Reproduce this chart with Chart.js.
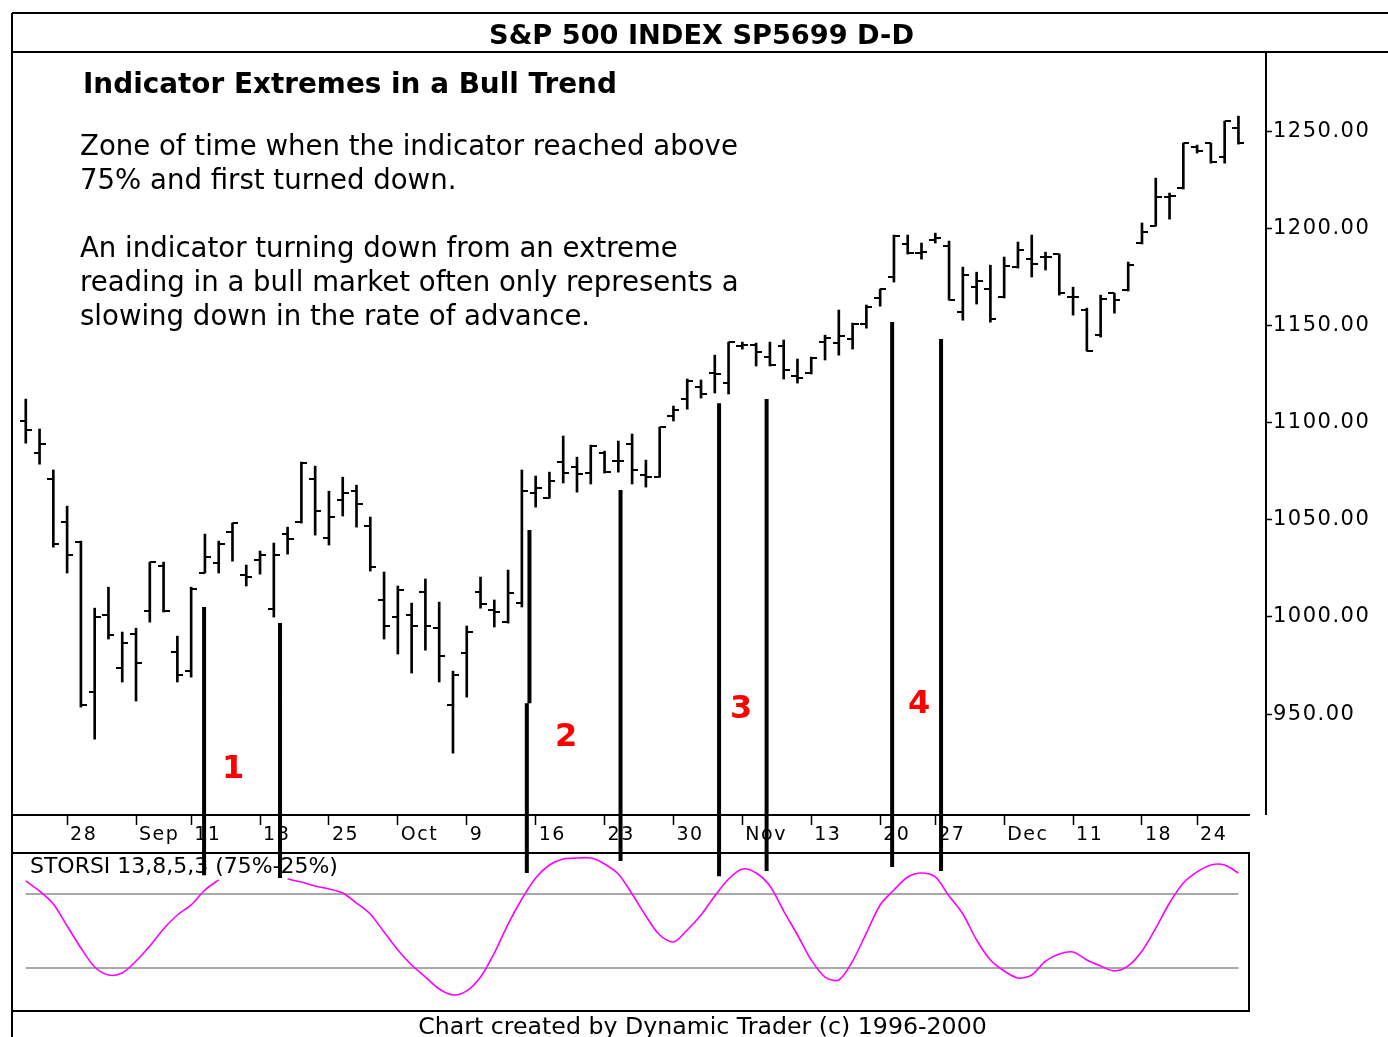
<!DOCTYPE html>
<html>
<head>
<meta charset="utf-8">
<script src="https://cdn.jsdelivr.net/npm/chart.js@4.4.1/dist/chart.umd.min.js"></script>
<style>
  html, body { margin: 0; padding: 0; background: #fff; }
  canvas { display: block; }
</style>
</head>
<body>
<canvas id="chart" width="1388" height="1037"></canvas>
<script>
// trading days on the chart (1998)
const dates = [
  'Aug 25', 'Aug 26', 'Aug 27', 'Aug 28', 'Aug 31',
  'Sep 1', 'Sep 2', 'Sep 3', 'Sep 4', 'Sep 8', 'Sep 9', 'Sep 10', 'Sep 11',
  'Sep 14', 'Sep 15', 'Sep 16', 'Sep 17', 'Sep 18',
  'Sep 21', 'Sep 22', 'Sep 23', 'Sep 24', 'Sep 25',
  'Sep 28', 'Sep 29', 'Sep 30',
  'Oct 1', 'Oct 2', 'Oct 5', 'Oct 6', 'Oct 7', 'Oct 8', 'Oct 9',
  'Oct 12', 'Oct 13', 'Oct 14', 'Oct 15', 'Oct 16',
  'Oct 19', 'Oct 20', 'Oct 21', 'Oct 22', 'Oct 23',
  'Oct 26', 'Oct 27', 'Oct 28', 'Oct 29', 'Oct 30',
  'Nov 2', 'Nov 3', 'Nov 4', 'Nov 5', 'Nov 6',
  'Nov 9', 'Nov 10', 'Nov 11', 'Nov 12', 'Nov 13',
  'Nov 16', 'Nov 17', 'Nov 18', 'Nov 19', 'Nov 20',
  'Nov 23', 'Nov 24', 'Nov 25', 'Nov 27', 'Nov 30',
  'Dec 1', 'Dec 2', 'Dec 3', 'Dec 4',
  'Dec 7', 'Dec 8', 'Dec 9', 'Dec 10', 'Dec 11',
  'Dec 14', 'Dec 15', 'Dec 16', 'Dec 17', 'Dec 18',
  'Dec 21', 'Dec 22', 'Dec 23', 'Dec 24',
  'Dec 28', 'Dec 29', 'Dec 30'
];

const high = [
  1112.1, 1096.7, 1075.6, 1057.0, 1039.0, 1004.5, 1015.3, 992.2, 994.2, 1028.2,
  1028.2, 990.1, 1015.3, 1042.6, 1039.0, 1048.3, 1026.7, 1033.9, 1038.0, 1046.2,
  1079.7, 1077.6, 1064.7, 1071.9, 1067.8, 1051.4, 1023.1, 1015.9, 1007.1, 1019.5,
  1007.6, 972.1, 995.3, 1020.5, 1008.7, 1024.1, 1075.6, 1072.5, 1074.5, 1093.1,
  1082.2, 1088.4, 1085.3, 1090.5, 1094.1, 1080.7, 1097.7, 1108.5, 1122.4, 1121.9,
  1134.7, 1141.4, 1141.4, 1140.9, 1141.4, 1142.5, 1132.7, 1133.7, 1145.0, 1157.9,
  1151.2, 1160.5, 1168.7, 1196.5, 1196.5, 1192.4, 1197.5, 1193.4, 1180.0, 1177.4,
  1181.0, 1185.2, 1192.9, 1196.5, 1187.7, 1186.7, 1169.7, 1158.9, 1165.6, 1166.6,
  1182.6, 1202.7, 1225.8, 1218.1, 1243.8, 1242.8, 1243.8, 1255.1, 1257.7
];
const low = [
  1089.4, 1078.6, 1035.9, 1022.6, 953.6, 937.1, 988.6, 966.5, 956.7, 997.3,
  1002.5, 966.5, 969.0, 1022.6, 1022.6, 1028.7, 1015.9, 1022.0, 999.9, 1032.3,
  1048.3, 1042.1, 1037.0, 1051.9, 1046.2, 1023.6, 988.6, 980.9, 971.1, 982.9,
  966.5, 929.9, 958.7, 1004.5, 994.8, 996.8, 1005.1, 1056.5, 1061.1, 1068.9,
  1064.2, 1068.4, 1074.0, 1074.5, 1068.4, 1066.8, 1071.9, 1100.8, 1106.9, 1112.6,
  1115.2, 1114.7, 1137.8, 1129.1, 1129.1, 1122.4, 1120.3, 1125.0, 1132.2, 1134.7,
  1137.8, 1148.6, 1159.9, 1172.3, 1186.7, 1184.1, 1192.4, 1163.0, 1152.7, 1161.0,
  1151.7, 1164.1, 1179.5, 1174.9, 1178.5, 1165.6, 1155.3, 1136.8, 1144.0, 1156.3,
  1167.7, 1191.9, 1201.1, 1204.7, 1220.2, 1238.7, 1233.5, 1233.5, 1243.3
];
const open = [
  1100.8, 1084.3, 1070.9, 1048.8, 1038.5, 961.3, 1000.9, 973.7, 991.2, 1003.0,
  1026.2, 981.9, 972.1, 1022.6, 1027.7, 1043.6, 1021.5, 1029.2, 1004.0, 1042.6,
  1048.8, 1070.9, 1040.6, 1060.1, 1064.7, 1046.7, 1008.7, 999.9, 1000.9, 1012.8,
  994.2, 954.6, 981.4, 1012.8, 1003.5, 997.3, 1007.1, 1063.7, 1061.1, 1079.7,
  1077.1, 1074.0, 1084.3, 1080.2, 1088.9, 1073.0, 1071.9, 1103.3, 1112.1, 1118.3,
  1125.5, 1120.3, 1139.4, 1139.9, 1133.7, 1139.4, 1123.9, 1125.5, 1141.4, 1140.9,
  1143.0, 1150.7, 1164.1, 1174.9, 1191.9, 1187.2, 1193.9, 1190.8, 1156.9, 1169.7,
  1168.7, 1164.6, 1180.0, 1184.1, 1185.2, 1186.7, 1164.6, 1157.9, 1145.0, 1166.6,
  1168.2, 1192.4, 1201.1, 1216.0, 1220.7, 1241.8, 1243.8, 1236.6, 1251.5
];
const close = [
  1096.1, 1088.9, 1037.5, 1031.8, 954.6, 999.9, 990.6, 986.5, 976.2, 1028.2,
  1003.0, 970.1, 1014.3, 1030.8, 1037.5, 1048.3, 1020.5, 1031.8, 1031.8, 1040.0,
  1079.2, 1054.5, 1051.4, 1063.7, 1058.1, 1025.6, 995.3, 1013.8, 995.3, 995.3,
  979.8, 970.1, 992.2, 1006.6, 1002.5, 1012.3, 1064.7, 1066.3, 1069.9, 1074.0,
  1073.5, 1087.9, 1074.5, 1080.2, 1075.6, 1071.9, 1097.7, 1106.4, 1121.4, 1114.7,
  1125.0, 1141.4, 1139.9, 1136.3, 1129.6, 1127.0, 1122.9, 1133.2, 1143.5, 1144.5,
  1150.7, 1159.4, 1168.7, 1196.0, 1187.2, 1187.7, 1194.9, 1163.0, 1175.9, 1172.8,
  1153.3, 1180.5, 1188.8, 1181.6, 1185.2, 1166.6, 1164.6, 1136.8, 1163.5, 1163.0,
  1181.0, 1198.0, 1216.0, 1216.6, 1243.8, 1239.7, 1234.0, 1255.1, 1243.8
];

// STORSI 13,8,5,3 values; the nulls sit under the indicator caption
const storsi = [
  83.8, 77.0, 68.2, 53.4, 38.5, 25.7, 20.3, 21.6, 29.7, 39.9,
  51.4, 60.8, 67.6, 77.7, 84.5, null, null, null, null, 85.1,
  83.1, 80.4, 78.4, 75.7, 68.9, 61.5, 49.3, 37.2, 27.0, 18.9,
  10.8, 6.8, 9.5, 18.9, 35.1, 54.7, 71.6, 85.8, 94.6, 98.6,
  99.3, 99.3, 95.3, 88.5, 75.0, 60.1, 47.3, 42.6, 50.7, 60.8,
  73.6, 85.1, 91.9, 89.2, 80.4, 63.5, 47.3, 30.4, 18.9, 16.9,
  29.7, 48.6, 67.6, 77.7, 86.5, 89.2, 86.5, 73.6, 61.5, 43.9,
  30.4, 23.0, 18.2, 20.3, 29.7, 34.5, 35.8, 30.4, 26.4, 23.0,
  26.4, 36.5, 52.0, 68.9, 82.4, 89.9, 94.6, 94.6, 89.2
];
const storsiLevels = [75, 25];

const tickDays = ['Aug 28', 'Sep 4', 'Sep 11', 'Sep 18', 'Sep 25', 'Oct 2', 'Oct 9', 'Oct 16', 'Oct 23',
  'Oct 30', 'Nov 6', 'Nov 13', 'Nov 20', 'Nov 27', 'Dec 4', 'Dec 11', 'Dec 18', 'Dec 24'];
const tickLabels = ['28', 'Sep', '11', '18', '25', 'Oct', '9', '16', '23',
  '30', 'Nov', '13', '20', '27', 'Dec', '11', '18', '24'];
const priceTicks = [950, 1000, 1050, 1100, 1150, 1200, 1250];

// hand drawn zone markers: bar position, top of the line and its end (price units)
const markerX = [12.94, 18.45, 36.55, 36.36, 43.16, 50.31, 53.76, 62.87, 66.42];
const markerTop = [1005.1, 996.8, 1044.7, 955.6, 1065.3, 1110.0, 1112.1, 1151.7, 1143.0];
const markerEnd = [867.1, 865.6, 955.6, 868.2, 874.4, 866.6, 869.2, 871.3, 869.2];
const zoneNames = ['1', '2', '3', '4'];

const FONT = '"DejaVu Sans", sans-serif';
Chart.defaults.font.family = FONT;

const dateAxisLevel = 898.0;   // price level where the date strip sits
const PANEL_TOP = 853, PANEL_RIGHT = 1249;

const tickIndex = tickDays.map(d => dates.indexOf(d));

function tickMark(side) {
  const c = document.createElement('canvas');
  c.width = 12; c.height = 2;
  const g = c.getContext('2d');
  g.fillStyle = '#000';
  g.fillRect(side < 0 ? 0 : 6, 0, 6, 2);
  return c;
}

const markerData = [];
markerX.forEach((x, k) => {
  markerData.push({ x, y: markerTop[k] }, { x, y: markerEnd[k] }, { x, y: null });
});

// fit a text line to a known width
function fitText(ctx, text, x, y, width, weight, align) {
  ctx.font = `${weight} 100px ${FONT}`;
  const size = 100 * width / ctx.measureText(text).width;
  ctx.font = `${weight} ${size}px ${FONT}`;
  ctx.textAlign = align;
  ctx.fillText(text, x, y);
  return size;
}

const frame = {
  id: 'frame',
  beforeDraw(chart) {
    const { ctx, chartArea: a } = chart;
    const W = chart.width, H = chart.height;
    const dateY = chart.scales.y.getPixelForValue(dateAxisLevel);
    ctx.save();
    ctx.fillStyle = '#fff';
    ctx.fillRect(0, 0, W, H);
    ctx.strokeStyle = '#000';
    ctx.lineWidth = 2;
    const seg = (x1, y1, x2, y2) => { ctx.beginPath(); ctx.moveTo(x1, y1); ctx.lineTo(x2, y2); ctx.stroke(); };
    seg(a.left, 13, W, 13);
    seg(a.left, 13, a.left, H);
    seg(a.left, a.top, W, a.top);
    seg(a.right, a.top, a.right, dateY);
    seg(a.left, dateY, PANEL_RIGHT + 1, dateY);
    ctx.strokeRect(a.left, PANEL_TOP, PANEL_RIGHT - a.left, a.bottom - PANEL_TOP);
    ctx.restore();
    ctx.letterSpacing = '1.5px';
  },
  beforeDatasetsDraw(chart) {
    const { ctx } = chart;
    ctx.letterSpacing = '0px';
    ctx.save();
    ctx.fillStyle = '#000';
    ctx.textBaseline = 'alphabetic';
    fitText(ctx, 'S&P 500 INDEX SP5699 D-D', 701.5, 44, 425, 'bold', 'center');
    fitText(ctx, 'Indicator Extremes in a Bull Trend', 83, 93, 534, 'bold', 'left');
    const size = fitText(ctx, 'Zone of time when the indicator reached above', 80, 155, 658, 'normal', 'left');
    ctx.font = `${size}px ${FONT}`;
    ctx.fillText('75% and first turned down.', 80, 189);
    ctx.fillText('An indicator turning down from an extreme', 80, 257);
    ctx.fillText('reading in a bull market often only represents a', 80, 291);
    ctx.fillText('slowing down in the rate of advance.', 80, 325);
    fitText(ctx, 'STORSI 13,8,5,3 (75%-25%)', 30, 873, 308, 'normal', 'left');
    fitText(ctx, 'Chart created by Dynamic Trader (c) 1996-2000', 702.5, 1034, 569, 'normal', 'center');

    // zone numbers, placed in data units
    const at = chart.options.plugins.frame.zoneAt;
    const xs = chart.scales.x, ys = chart.scales.y;
    ctx.fillStyle = '#ff0000';
    ctx.font = `bold 32px ${FONT}`;
    ctx.textAlign = 'center';
    ctx.textBaseline = 'middle';
    zoneNames.forEach((t, k) => {
      ctx.fillText(t, xs.getPixelForValue(at[k][0]), ys.getPixelForValue(at[k][1]));
    });
    ctx.restore();
  }
};

new Chart(document.getElementById('chart'), {
  type: 'line',
  data: {
    datasets: [
      {
        label: 'markers',
        data: markerData,
        yAxisID: 'y',
        borderColor: '#000',
        borderWidth: 4,
        borderCapStyle: 'butt',
        pointRadius: 0,
        spanGaps: false,
        order: 0
      },
      {
        label: 'open',
        data: open.map((v, i) => ({ x: i, y: v })),
        yAxisID: 'y',
        showLine: false,
        pointStyle: tickMark(-1),
        pointRadius: 3,
        order: 1
      },
      {
        label: 'close',
        data: close.map((v, i) => ({ x: i, y: v })),
        yAxisID: 'y',
        showLine: false,
        pointStyle: tickMark(1),
        pointRadius: 3,
        order: 1
      },
      {
        type: 'bar',
        label: 'range',
        data: high.map((h, i) => ({ x: i, y: [low[i], h] })),
        yAxisID: 'y',
        backgroundColor: '#000',
        barThickness: 2,
        borderWidth: 0,
        order: 2
      },
      {
        label: 'STORSI',
        data: storsi.map((v, i) => ({ x: i, y: v })),
        yAxisID: 'osc',
        borderColor: '#ff00ff',
        borderWidth: 1.6,
        tension: 0.3,
        pointRadius: 0,
        spanGaps: false,
        order: 3
      },
      ...storsiLevels.map(v => ({
        label: v + '%',
        data: [{ x: 0, y: v }, { x: dates.length - 1, y: v }],
        yAxisID: 'osc',
        borderColor: '#a8a8a8',
        borderWidth: 2,
        pointRadius: 0,
        order: 4
      }))
    ]
  },
  options: {
    responsive: false,
    animation: false,
    devicePixelRatio: 1,
    events: [],
    layout: { padding: { left: 12, top: 52, right: 0, bottom: 26 } },
    plugins: {
      legend: { display: false },
      tooltip: { enabled: false },
      frame: { zoneAt: [[15.04, 921.2], [39.21, 937.6], [51.91, 952.1], [64.83, 954.6]] }
    },
    scales: {
      x: {
        type: 'linear',
        min: -1,
        max: 90,
        offset: false,
        position: { y: dateAxisLevel },
        afterBuildTicks: s => { s.ticks = tickIndex.map(v => ({ value: v })); },
        ticks: {
          autoSkip: false,
          maxRotation: 0,
          align: 'start',
          labelOffset: 3,
          padding: -1,
          color: '#000',
          font: { size: 19 },
          callback: v => tickLabels[tickIndex.indexOf(v)]
        },
        grid: { offset: false, drawOnChartArea: false, drawTicks: true, tickLength: 10, tickColor: '#000', tickWidth: 1.5 },
        border: { display: false }
      },
      y: {
        type: 'linear',
        position: 'right',
        min: 797.2,
        max: 1290.7,
        afterBuildTicks: s => { s.ticks = priceTicks.map(v => ({ value: v })); },
        afterFit: s => { s.width = 122; },
        ticks: { color: '#000', padding: 1, font: { size: 21 }, callback: v => v.toFixed(2) },
        grid: { drawOnChartArea: false, drawTicks: true, tickLength: 6, tickColor: '#000', tickWidth: 1.5 },
        border: { display: false }
      },
      osc: {
        type: 'linear',
        axis: 'y',
        position: 'left',
        display: false,
        min: -4.05,
        max: 643.9
      }
    }
  },
  plugins: [frame]
});
</script>
</body>
</html>
